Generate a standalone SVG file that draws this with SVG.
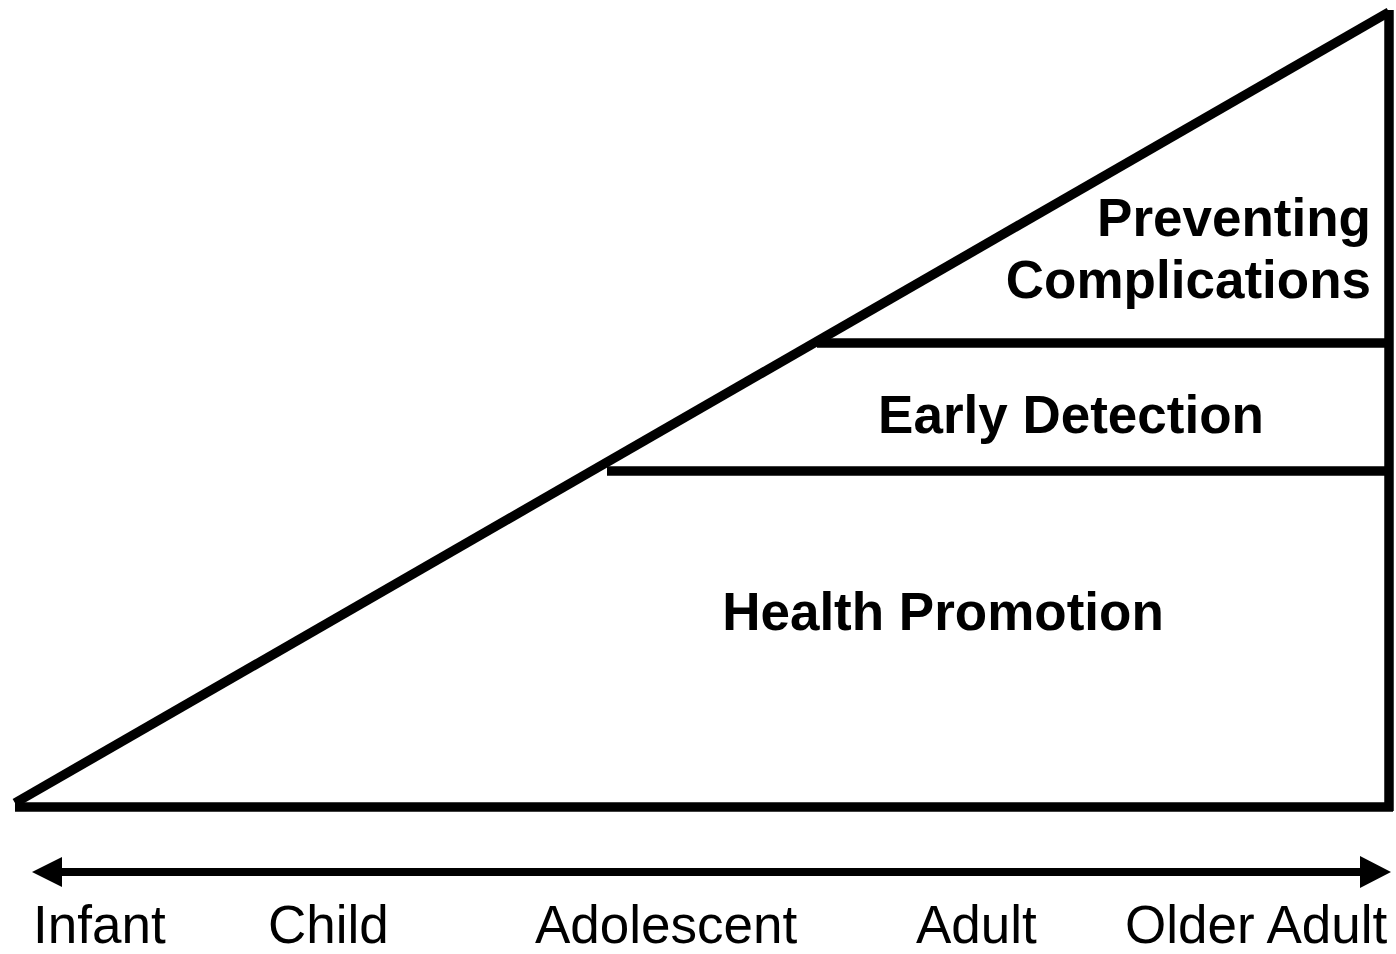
<svg xmlns="http://www.w3.org/2000/svg" width="1396" height="954" viewBox="0 0 1396 954">
<style>
.ln{stroke:#000;stroke-width:9.5;fill:none;stroke-linecap:butt}
.lb{font-family:"Liberation Sans",Arial,sans-serif;font-weight:bold;font-size:53px;fill:#000}
.ax{font-family:"Liberation Sans",Arial,sans-serif;font-size:53px;fill:#000}
</style>
<rect width="1396" height="954" fill="#fff"/>
<g id="triangle">
<line class="ln" x1="15" y1="803" x2="1389" y2="12"/>
<line class="ln" x1="15" y1="807" x2="1393" y2="807"/>
<line class="ln" x1="1389" y1="10" x2="1389" y2="811"/>
</g>
<g id="connectors">
<line class="ln" x1="817" y1="343" x2="1389" y2="343"/>
<line class="ln" x1="607" y1="471" x2="1389" y2="471"/>
<line x1="55" y1="872" x2="1368" y2="872" stroke="#000" stroke-width="8"/>
<polygon points="32,872 62,857 62,887" fill="#000"/>
<polygon points="1391,872 1360,856 1360,888" fill="#000"/>
</g>
<g id="node-preventing">
<text class="lb" x="1371" y="236" text-anchor="end">Preventing</text>
<text class="lb" x="1371" y="298" text-anchor="end">Complications</text>
</g>
<g id="node-early">
<text class="lb" x="1071" y="433" text-anchor="middle">Early Detection</text>
</g>
<g id="node-health">
<text class="lb" x="943" y="630" text-anchor="middle">Health Promotion</text>
</g>
<g id="axis-labels">
<text class="ax" x="33" y="943">Infant</text>
<text class="ax" x="268" y="943">Child</text>
<text class="ax" x="535" y="943">Adolescent</text>
<text class="ax" x="916" y="943">Adult</text>
<text class="ax" x="1125" y="943">Older Adult</text>
</g>
</svg>
